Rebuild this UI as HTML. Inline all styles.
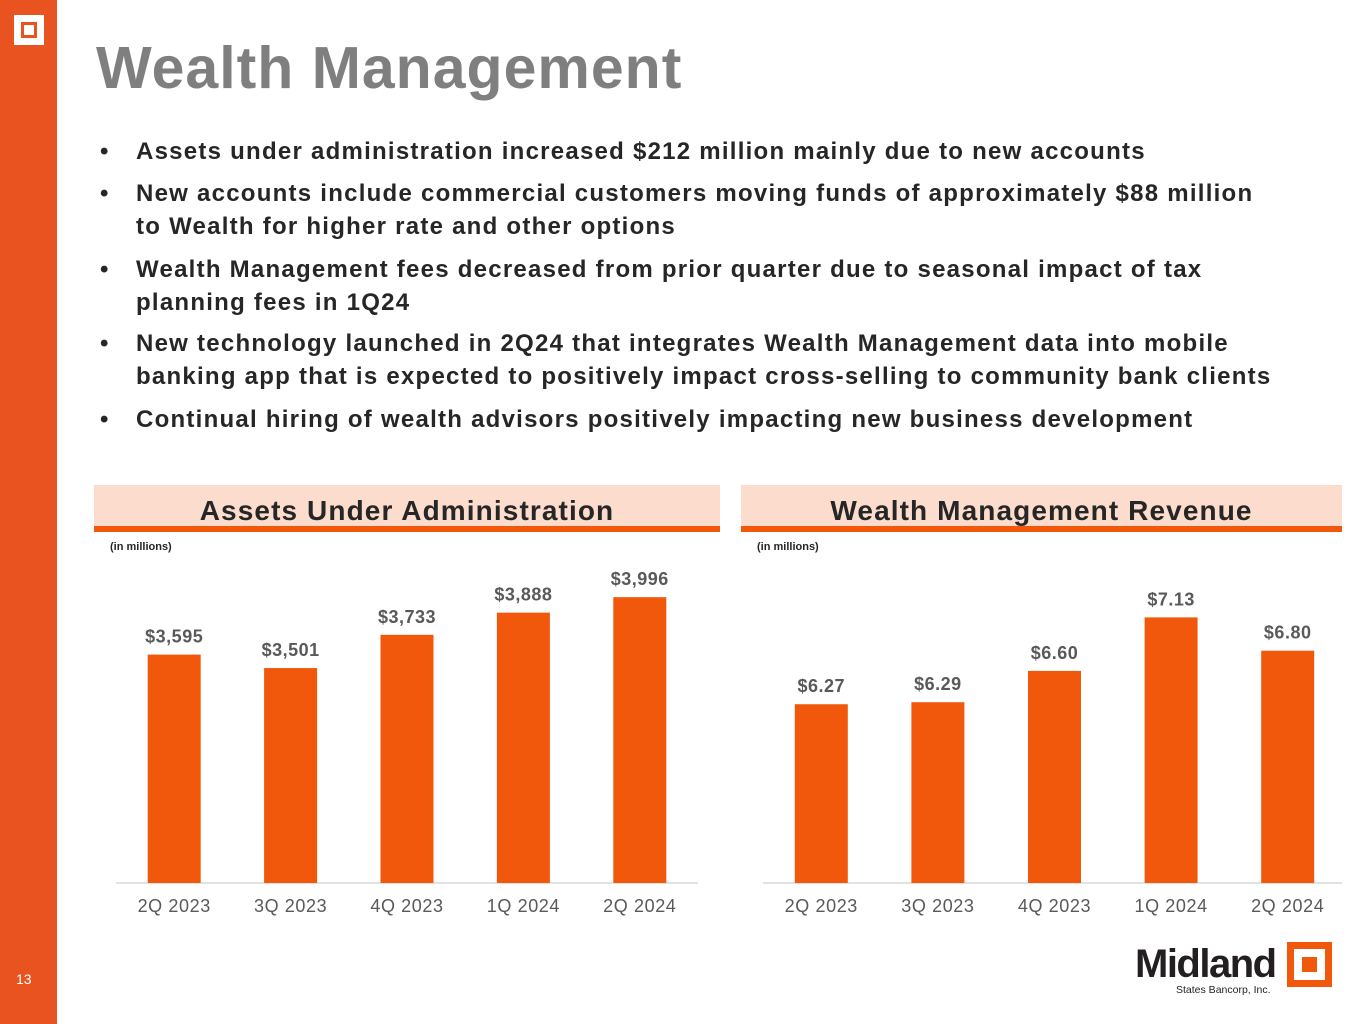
<!DOCTYPE html>
<html><head><meta charset="utf-8"><style>
body{margin:0;width:1365px;height:1024px;position:relative;background:#fff;font-family:"Liberation Sans",Arial,sans-serif;overflow:hidden}
.abs{position:absolute}
#side{left:0;top:0;width:57px;height:1024px;background:#E8531F}
#title{left:96px;top:34px;font-size:59px;font-weight:bold;color:#7f7f7f;white-space:nowrap;letter-spacing:1.0px}
.b{position:absolute;left:100px;font-size:24px;font-weight:bold;color:#262626;line-height:32.5px;letter-spacing:1.25px}
.b span{position:absolute;left:36px;white-space:nowrap}
.hdr{position:absolute;top:485px;height:41px;background:#FCDCCD;border-bottom:6px solid #F2580C;text-align:center;font-size:28px;font-weight:bold;color:#262626;line-height:52px;letter-spacing:1.1px}
.note{position:absolute;top:541px;font-size:11px;font-weight:bold;color:#262626}
svg text{font-family:"Liberation Sans",Arial,sans-serif}
</style></head><body>
<div id="side" class="abs">
 <div class="abs" style="left:14px;top:15px;width:16px;height:16px;border:7px solid #fff;"><div style="margin:3px;width:10px;height:10px;background:#fff"></div></div>
 <div class="abs" style="left:16px;top:971px;color:#fff;font-size:14px">13</div>
</div>
<div id="title" class="abs">Wealth Management</div>
<div class="b" style="top:136px">•<span>Assets under administration increased $212 million mainly due to new accounts</span></div>
<div class="b" style="top:178px">•<span>New accounts include commercial customers moving funds of approximately $88 million<br>to Wealth for higher rate and other options</span></div>
<div class="b" style="top:254px">•<span>Wealth Management fees decreased from prior quarter due to seasonal impact of tax<br>planning fees in 1Q24</span></div>
<div class="b" style="top:328px">•<span>New technology launched in 2Q24 that integrates Wealth Management data into mobile<br>banking app that is expected to positively impact cross-selling to community bank clients</span></div>
<div class="b" style="top:404px">•<span>Continual hiring of wealth advisors positively impacting new business development</span></div>
<div class="hdr" style="left:94px;width:626px">Assets Under Administration</div>
<div class="hdr" style="left:741px;width:601px">Wealth Management Revenue</div>
<div class="note" style="left:110px">(in millions)</div>
<div class="note" style="left:757px">(in millions)</div>
<svg class="abs" style="left:0;top:0" width="1365" height="1024" id="charts">
 <line x1="116" y1="883" x2="698" y2="883" stroke="#d9d9d9" stroke-width="1.5"/>
 <line x1="763" y1="883" x2="1342" y2="883" stroke="#d9d9d9" stroke-width="1.5"/>
</svg>
<div class="abs" style="left:1135px;top:942px;font-size:40px;font-weight:bold;color:#231f20;letter-spacing:-1.5px">Midland</div>
<div class="abs" style="left:1176px;top:984px;font-size:10.5px;color:#231f20">States Bancorp, Inc.</div>
<div class="abs" style="left:1287px;top:942px;width:31px;height:31px;border:7px solid #F2580C"><div style="margin:8px;width:15px;height:15px;background:#F2580C"></div></div>
<script>
const categories=["2Q 2023","3Q 2023","4Q 2023","1Q 2024","2Q 2024"];
const auaValues=[3595,3501,3733,3888,3996];
const auaLabels=["$3,595","$3,501","$3,733","$3,888","$3,996"];
const revValues=[6.27,6.29,6.60,7.13,6.80];
const revLabels=["$6.27","$6.29","$6.60","$7.13","$6.80"];
const svg=document.getElementById('charts');
const NS='http://www.w3.org/2000/svg';
function draw(prefix,vals,labels,x0,x1,vmin,vmax,topPx){
 const base=883, step=(x1-x0)/categories.length;
 const y=v=>base-(v-vmin)/(vmax-vmin)*(base-topPx);
 vals.forEach((v,i)=>{
  const cx=x0+step*(i+0.5);
  const r=document.createElementNS(NS,'rect');
  r.setAttribute('x',cx-26.5);r.setAttribute('y',y(v));r.setAttribute('width',53);r.setAttribute('height',base-y(v));r.setAttribute('fill','#F2580C');
  
  
  svg.appendChild(r);
  const t=document.createElementNS(NS,'text');
  t.setAttribute('x',cx);t.setAttribute('y',y(v)-12);t.setAttribute('text-anchor','middle');t.setAttribute('font-size','18');t.setAttribute('font-weight','bold');t.setAttribute('fill','#595959');t.setAttribute('letter-spacing','0.5');
  t.textContent=labels[i];
  
  
  svg.appendChild(t);
  const c=document.createElementNS(NS,'text');
  c.setAttribute('x',cx);c.setAttribute('y',912);c.setAttribute('text-anchor','middle');c.setAttribute('font-size','18');c.setAttribute('fill','#595959');c.setAttribute('letter-spacing','0.6');
  c.textContent=categories[i];
  
  
  svg.appendChild(c);
 });
}
draw('aua',auaValues,auaLabels,116,698,2000,4000,596.6);
draw('rev',revValues,revLabels,763,1346,4.5,7.5,580);
</script>
</body></html>
